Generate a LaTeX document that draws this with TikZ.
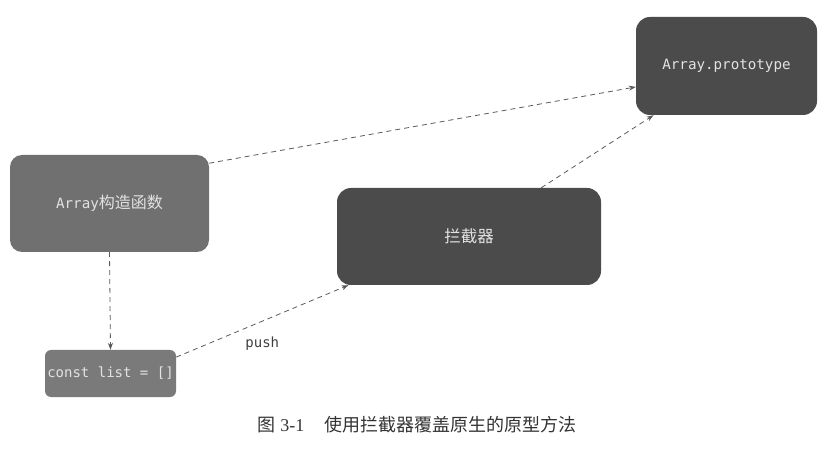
\documentclass[tikz,border=0pt]{standalone}
\usepackage{fontspec}
\setmainfont{Liberation Serif}
\setmonofont{DejaVu Sans Mono}
\newfontfamily\cjk{Noto Sans CJK SC}
\usetikzlibrary{positioning, arrows.meta}

\definecolor{boxlight}{HTML}{707070}
\definecolor{boxsmall}{HTML}{7A7A7A}
\definecolor{boxdark}{HTML}{4B4B4B}
\definecolor{boxtext}{HTML}{E2E2E2}
\definecolor{linegray}{HTML}{5A5A5A}

\begin{document}
\begin{tikzpicture}[
    x=1pt, y=1pt,
    >={Stealth[length=7pt, width=5pt]},
    % Styles
    ctorbox/.style={
        fill=boxlight, rectangle, rounded corners=12pt, minimum width=199pt, minimum height=97pt,
        text=boxtext, font=\fontsize{14.2}{16}\selectfont, align=center
    },
    listbox/.style={
        fill=boxsmall, rectangle, rounded corners=6pt, minimum width=131pt, minimum height=47pt,
        text=boxtext, font=\ttfamily\fontsize{14}{16}\selectfont, align=center, inner sep=1pt
    },
    darkbox/.style={
        fill=boxdark, rectangle, rounded corners=14pt, align=center, text=boxtext
    },
    arrow/.style={->, linegray, line width=0.8pt, dash pattern=on 5pt off 4pt},
    caption/.style={font=\fontsize{18}{20}\selectfont, text=black!80}
]
    \useasboundingbox (0,0) rectangle (825,-454);

    % --- BOXES ---
    \node[ctorbox] (ctor) at (109.5,-203.5) {{\ttfamily Array}{\cjk\fontsize{16}{18}\selectfont 构造函数}};
    \node[listbox] (list) at (110.5,-373.5) {const list = []};
    \node[darkbox, minimum width=181pt, minimum height=98pt,
          font=\ttfamily\fontsize{14.2}{16}\selectfont] (proto) at (726.5,-66) {Array.prototype};
    \node[darkbox, minimum width=264pt, minimum height=97pt,
          font=\cjk\fontsize{16.5}{18}\selectfont] (proxy) at (469,-236.5) {拦截器};

    % --- CONNECTIONS ---
    \draw[arrow] (ctor.22.6) -- (proto.193);
    \draw[arrow] (ctor.south) -- (list.north);
    \draw[arrow] (list.14) -- node[midway, below=12pt, font=\ttfamily\fontsize{14}{16}\selectfont, text=black!75] (push) {push} (proxy.202);
    \draw[arrow] (proxy.34) -- (proto.214);

    % --- CAPTION ---
    \node[caption] (cap) at (417,-425) {{\cjk 图} 3-1\hspace{1.1em}{\cjk 使用拦截器覆盖原生的原型方法}};

\end{tikzpicture}
\end{document}
